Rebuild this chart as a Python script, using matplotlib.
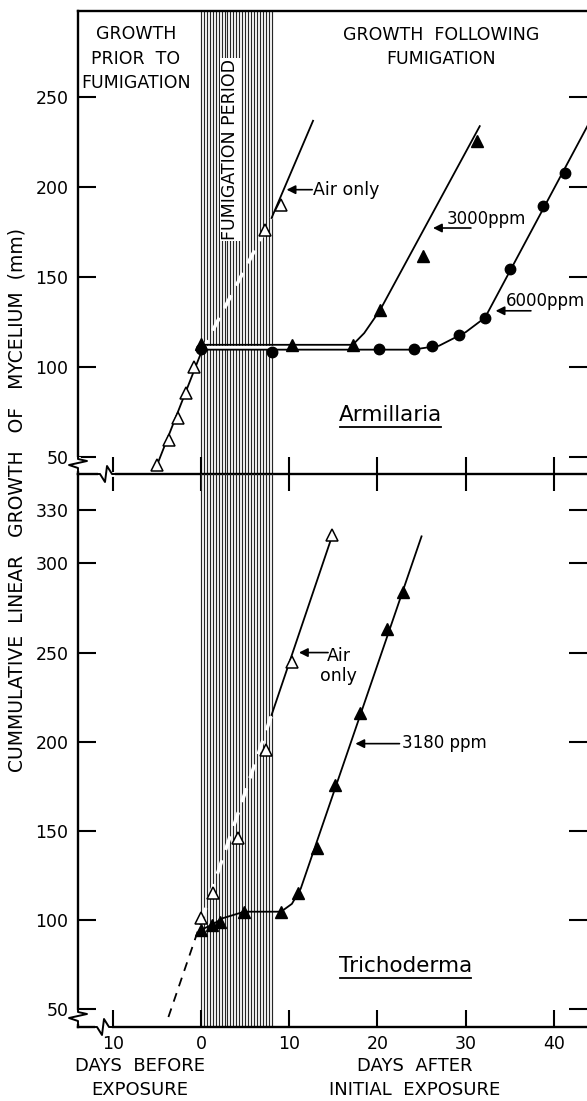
import numpy as np
import matplotlib
matplotlib.use("Agg")
import matplotlib.pyplot as plt
from matplotlib.lines import Line2D
from matplotlib.transforms import IdentityTransform

plt.rcParams['font.family'] = ['DejaVu Sans']

# ---- data (days, mm) ----
fum_start, fum_end = 0, 8

# Armillaria
arm_air_x = [-5.0, -3.6, -2.6, -1.75, -0.76, 7.26, 9.07]
arm_air_y = [45.7, 59.6, 72.0, 85.6, 100.3, 176.5, 190.4]
arm_air_line_x = [-5.2, 0, 8, 12.7]
arm_air_line_y = [43, 108, 183, 237]

arm_3000_x = [0, 10.35, 17.2, 20.3, 25.2, 31.3]
arm_3000_y = [113, 112.5, 112.5, 131.8, 161.6, 225.6]
arm_3000_line_x = [0, 17.2, 18.5, 20.3, 31.6]
arm_3000_line_y = [112.5, 112.5, 119, 131.8, 234]

arm_6000_x = [0, 8.1, 20.2, 24.1, 26.2, 29.2, 32.2, 35.0, 38.8, 41.3]
arm_6000_y = [110, 108.7, 110, 110, 111.8, 117.9, 127.6, 154.6, 189.4, 208]
arm_6000_line_x = [0, 24, 27, 30, 32.2, 43.8]
arm_6000_line_y = [109.8, 109.8, 112, 119.5, 127.6, 234]

# Trichoderma
tri_air_x = [0, 1.33, 4.16, 7.33, 10.35, 14.9]
tri_air_y = [101, 115.3, 145.9, 195.1, 244.7, 315.9]
tri_air_line_x = [-3.7, 0, 8, 14.9]
tri_air_line_y = [45.5, 99, 215, 316]

tri_3180_x = [0, 1.2, 2.1, 4.9, 9.07, 11.0, 13.2, 15.2, 18.0, 21.1, 22.9]
tri_3180_y = [94.4, 97.2, 99.0, 104.6, 104.6, 115.3, 140.3, 175.7, 216.3, 263.1, 284]
tri_3180_line_x = [0, 1.2, 2.5, 4.9, 9.07, 10.3, 11.3, 25.0]
tri_3180_line_y = [94.4, 97.2, 101, 104.6, 104.6, 109, 117.5, 315.2]

xticks = [-10, 0, 10, 20, 30, 40]
xticklabels = ['10', '0', '10', '20', '30', '40']

W, H = 587, 1101
fig = plt.figure(figsize=(W / 100, H / 100), dpi=100)

left_px, right_px = 78, 587
ax1 = fig.add_axes([left_px / W, (H - 474) / H, (right_px - left_px) / W, (474 - 11) / H])
ax2 = fig.add_axes([left_px / W, (H - 1027) / H, (right_px - left_px) / W, (1027 - 474) / H])

xlim = (-13.95, 43.76)
ax1.set_xlim(*xlim)
ax2.set_xlim(*xlim)
ax1.set_ylim(40.7, 298)
ax2.set_ylim(39.9, 350.2)

for ax in (ax1, ax2):
    ax.spines['right'].set_visible(False)
    for s in ('left', 'top', 'bottom'):
        ax.spines[s].set_linewidth(1.7)
    ax.patch.set_alpha(0)
    # fumigation period hatch
    for xv in np.linspace(fum_start, fum_end, 25):
        ax.axvline(xv, color='0.15', lw=0.85, zorder=1)

ax2.spines['top'].set_visible(False)

# ticks
ax1.set_xticks(xticks)
ax1.tick_params(axis='x', direction='inout', length=25, width=1.5, labelbottom=False)
ax2.set_xticks(xticks)
ax2.set_xticklabels(xticklabels)
ax2.tick_params(axis='x', direction='in', length=12, width=1.5, labelsize=12.5, pad=6)

ax1.set_yticks([50, 100, 150, 200, 250])
ax2.set_yticks([50, 100, 150, 200, 250, 300, 330])
for ax in (ax1, ax2):
    ax.tick_params(axis='y', direction='in', length=13, width=1.5, labelsize=12.5, pad=7,
                   right=True)
for t in ax2.yaxis.get_major_ticks():
    if t.get_loc() == 330:
        t.tick2line.set_visible(False)

lw = 1.3
# ---- Armillaria ----
ax1.plot(arm_air_line_x[:2], arm_air_line_y[:2], color='k', lw=lw, zorder=3)
ax1.plot(arm_air_line_x[1:3], arm_air_line_y[1:3], color='w', lw=2.6, ls=(0, (4, 3)), zorder=3)
ax1.plot(arm_air_line_x[2:], arm_air_line_y[2:], color='k', lw=lw, zorder=3)
ax1.plot(arm_3000_line_x, arm_3000_line_y, color='k', lw=lw, zorder=3)
ax1.plot(arm_6000_line_x, arm_6000_line_y, color='k', lw=lw, zorder=3)
ax1.fill_between([0.3, 17.2], 110.6, 111.8, color='w', zorder=2)
ax1.plot(arm_air_x, arm_air_y, ls='none', marker='^', ms=8, mfc='w', mec='k', mew=1.1, zorder=4)
ax1.plot(arm_3000_x, arm_3000_y, ls='none', marker='^', ms=8, color='k', zorder=4)
ax1.plot(arm_6000_x, arm_6000_y, ls='none', marker='o', ms=7.5, color='k', zorder=4)

# ---- Trichoderma ----
ax2.plot(tri_air_line_x[:2], tri_air_line_y[:2], color='k', lw=lw, ls=(0, (5, 4)), zorder=3)
ax2.plot(tri_air_line_x[1:3], tri_air_line_y[1:3], color='w', lw=2.6, ls=(0, (4, 3)), zorder=3)
ax2.plot(tri_air_line_x[2:], tri_air_line_y[2:], color='k', lw=lw, zorder=3)
ax2.plot(tri_3180_line_x, tri_3180_line_y, color='k', lw=lw, zorder=3)
ax2.plot(tri_air_x, tri_air_y, ls='none', marker='^', ms=8, mfc='w', mec='k', mew=1.1, zorder=4)
ax2.plot(tri_3180_x, tri_3180_y, ls='none', marker='^', ms=8, color='k', zorder=4)

# ---- annotations ----
arrow = dict(arrowstyle='-|>', color='k', lw=1.2, mutation_scale=13, shrinkA=0, shrinkB=0)
fs = 12.5
ax1.annotate('', xy=(9.7, 198.7), xytext=(12.6, 198.7), arrowprops=arrow, zorder=5)
ax1.text(12.7, 198.7, 'Air only', fontsize=fs, va='center', ha='left')
ax1.annotate('', xy=(26.3, 177.4), xytext=(30.6, 177.4), arrowprops=arrow, zorder=5)
ax1.text(27.9, 182.5, '3000ppm', fontsize=12, va='center', ha='left')
ax1.annotate('', xy=(33.4, 131.4), xytext=(37.4, 131.4), arrowprops=arrow, zorder=5)
ax1.text(34.6, 136.6, '6000ppm', fontsize=12, va='center', ha='left')

ax2.annotate('', xy=(11.1, 250), xytext=(14.4, 250), arrowprops=arrow, zorder=5)
ax2.text(15.6, 242.5, 'Air\nonly', fontsize=fs, va='center', ha='center', linespacing=1.1)
ax2.annotate('', xy=(17.5, 198.9), xytext=(22.5, 198.9), arrowprops=arrow, zorder=5)
ax2.text(22.8, 199, '3180 ppm', fontsize=12, va='center', ha='left')

t_arm = ax1.text(21.5, 73.5, 'Armillaria', fontsize=15.5, ha='center', va='center')
t_tri = ax2.text(23.2, 73.9, 'Trichoderma', fontsize=15.5, ha='center', va='center')

ax1.text(-7.4, 271.5, 'GROWTH\nPRIOR  TO\nFUMIGATION', fontsize=12.5, ha='center',
         va='center', linespacing=1.45)
ax1.text(27.2, 278, 'GROWTH  FOLLOWING\nFUMIGATION', fontsize=12.5, ha='center',
         va='center', linespacing=1.45)
ax1.text(3.3, 221, 'FUMIGATION PERIOD', fontsize=12.5, rotation=90, ha='center', va='center',
         zorder=6, bbox=dict(facecolor='w', edgecolor='none', pad=1.0))

fig.text(17 / W, 1 - 500 / H, 'CUMMULATIVE  LINEAR   GROWTH   OF   MYCELIUM  (mm)',
         rotation=90, ha='center', va='center', fontsize=13.5)
fig.text(140 / W, 1 - 1078 / H, 'DAYS  BEFORE\nEXPOSURE', ha='center', va='center',
         fontsize=13, linespacing=1.45)
fig.text(415 / W, 1 - 1078 / H, 'DAYS  AFTER\nINITIAL  EXPOSURE', ha='center', va='center',
         fontsize=13, linespacing=1.45)

# underline species names
fig.canvas.draw()
for t in (t_arm, t_tri):
    bb = t.get_window_extent()
    fig.add_artist(Line2D([bb.x0 + 1, bb.x1 - 1], [bb.y0 - 2, bb.y0 - 2], color='k', lw=1.3,
                          transform=IdentityTransform()))


# axis break marks (drawn in pixel space)
def zigzag(x, y, vertical):
    if vertical:
        gap = ([x, x], [y + 4, y - 5])
        pts = ([x, x, x + 9, x - 9, x, x], [y + 8, y + 4, y + 2, y - 2, y - 5, y - 8])
    else:
        gap = ([x - 6, x + 6], [y, y])
        pts = ([x - 9, x - 6, x - 1, x + 1, x + 6, x + 9], [y, y, y - 8, y + 8, y, y])
    fig.add_artist(Line2D(*gap, color='w', lw=3.5, transform=IdentityTransform(), zorder=10))
    fig.add_artist(Line2D(*pts, color='k', lw=1.4, transform=IdentityTransform(), zorder=11))


zigzag(left_px, H - 463, True)
zigzag(left_px, H - 1016, True)
zigzag(106, H - 474, False)
zigzag(103, H - 1027, False)

fig.savefig('out.png', dpi=100)
